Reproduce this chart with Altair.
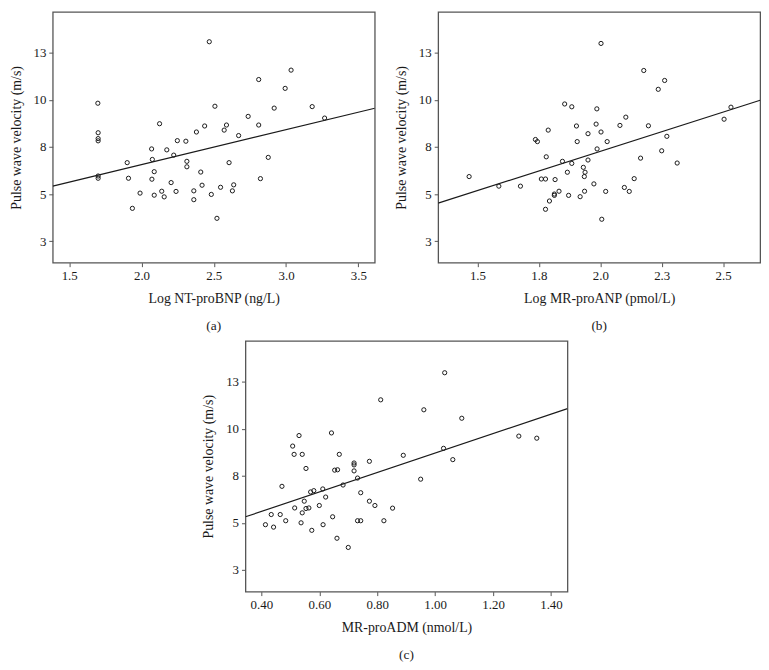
import altair as alt
import pandas as pd

# ---------------- data ----------------
# Panel (a): Log NT-proBNP vs PWV
a_x = [1.698, 1.70, 1.70, 1.70, 1.70, 1.70, 1.901, 1.91, 1.937, 1.99, 2.07, 2.075, 2.072,
       2.088, 2.088, 2.125, 2.175, 2.14, 2.157, 2.205, 2.223, 2.239, 2.248, 2.307, 2.314,
       2.314, 2.38, 2.362, 2.362, 2.437, 2.41, 2.419, 2.469, 2.483, 2.508, 2.522, 2.547,
       2.588, 2.572, 2.606, 2.629, 2.638, 2.672, 2.738, 2.811, 2.811, 2.823, 2.877, 2.918,
       2.994, 3.035, 3.181, 3.267]
a_y = [9.83, 8.26, 7.95, 7.83, 5.96, 5.84, 6.67, 5.84, 4.24, 5.05, 7.40, 6.84, 5.79,
       6.19, 4.94, 8.74, 7.35, 5.15, 4.85, 5.61, 7.07, 5.14, 7.84, 7.81, 6.74,
       6.45, 8.30, 5.17, 4.70, 8.62, 6.17, 5.47, 13.10, 4.98, 9.67, 3.71, 5.36,
       8.67, 8.40, 6.67, 5.17, 5.49, 8.11, 9.13, 11.09, 8.67, 5.82, 6.95, 9.57,
       10.62, 11.59, 9.65, 9.04]

# Panel (b): Log MR-proANP vs PWV
b_x = [1.466, 1.587, 1.675, 1.736, 1.744, 1.788, 1.780, 1.760, 1.777, 1.777, 1.816, 1.813,
       1.813, 1.793, 1.832, 1.846, 1.855, 1.866, 1.871, 1.884, 1.884, 1.903, 1.906, 1.918,
       1.931, 1.936, 1.935, 1.938, 1.950, 1.950, 1.974, 1.983, 1.986, 1.987, 2.003, 2.003,
       2.006, 2.022, 2.028, 2.080, 2.104, 2.098, 2.118, 2.138, 2.164, 2.177, 2.196, 2.236,
       2.250, 2.262, 2.271, 2.313, 2.504, 2.532]
b_y = [5.93, 5.42, 5.42, 7.90, 7.79, 8.40, 6.98, 5.80, 5.80, 4.19, 5.77, 5.00,
       4.93, 4.63, 5.15, 6.74, 9.79, 6.16, 4.93, 9.64, 6.63, 8.62, 7.79, 4.86,
       6.42, 5.15, 5.93, 6.16, 6.81, 8.21, 5.54, 8.72, 9.53, 7.40, 13.01, 8.30,
       3.66, 5.14, 7.79, 8.65, 9.09, 5.35, 5.14, 5.82, 6.91, 11.57, 8.63, 10.57,
       7.30, 11.04, 8.07, 6.65, 8.98, 9.62]

# Panel (c): MR-proADM vs PWV
c_x = [0.414, 0.434, 0.442, 0.465, 0.471, 0.484, 0.508, 0.513, 0.515, 0.530, 0.537, 0.541,
       0.541, 0.548, 0.554, 0.554, 0.564, 0.570, 0.574, 0.581, 0.600, 0.612, 0.613, 0.622,
       0.642, 0.646, 0.653, 0.663, 0.661, 0.669, 0.682, 0.700, 0.720, 0.720, 0.720, 0.732,
       0.732, 0.743, 0.743, 0.773, 0.773, 0.792, 0.812, 0.823, 0.853, 0.890, 0.950, 0.961,
       1.029, 1.033, 1.061, 1.092, 1.289, 1.351]
c_y = [4.91, 5.45, 4.78, 5.45, 6.95, 5.12, 9.09, 8.65, 5.80, 9.65, 5.01, 8.65,
       5.54, 6.16, 7.90, 5.77, 5.80, 6.65, 4.61, 6.72, 5.93, 6.81, 4.91, 6.38,
       9.79, 5.33, 7.81, 7.83, 4.19, 8.65, 7.02, 3.70, 8.19, 8.09, 7.77, 7.39,
       5.12, 6.61, 5.12, 8.28, 6.16, 5.93, 11.55, 5.12, 5.79, 8.60, 7.33, 11.02,
       8.97, 12.99, 8.37, 10.57, 9.62, 9.51]

# fitted lines (ends)
a_fit_x = [1.386, 3.614]
a_fit_y = [5.42, 9.565]
b_fit_x = [1.340, 2.651]
b_fit_y = [4.52, 9.99]
c_fit_x = [0.345, 1.457]
c_fit_y = [5.33, 11.08]

# axes
y_domain = [1.35, 14.68]
y_tick_values = [2.5, 5.0, 7.5, 10.0, 12.5]
y_tick_labels = ["3", "5", "8", "10", "13"]

a_x_ticks = [1.5, 2.0, 2.5, 3.0, 3.5]
a_x_labels = ["1.5", "2.0", "2.5", "3.0", "3.5"]
b_x_ticks = [1.5, 1.75, 2.0, 2.25, 2.5]
b_x_labels = ["1.5", "1.8", "2.0", "2.3", "2.5"]
c_x_ticks = [0.4, 0.6, 0.8, 1.0, 1.2, 1.4]
c_x_labels = ["0.40", "0.60", "0.80", "1.00", "1.20", "1.40"]

y_title = "Pulse wave velocity (m/s)"
FONT = "'Liberation Serif', 'Times New Roman', Times, serif"
FRAME = "#555555"
INK = "#1a1a1a"


def label_expr(values, labels):
    expr = "''"
    for v, l in reversed(list(zip(values, labels))):
        expr = f"abs(datum.value - {v}) < 1e-6 ? '{l}' : ({expr})"
    return expr


def panel(xs, ys, fx, fy, xdomain, xticks, xlabels, xtitle, caption):
    pts = pd.DataFrame({"x": xs, "y": ys})
    fit = pd.DataFrame({"x": fx, "y": fy})
    xenc = alt.X("x:Q",
                 scale=alt.Scale(domain=xdomain, nice=False, zero=False),
                 axis=alt.Axis(values=xticks, labelExpr=label_expr(xticks, xlabels),
                               title=xtitle))
    yenc = alt.Y("y:Q",
                 scale=alt.Scale(domain=y_domain, nice=False, zero=False),
                 axis=alt.Axis(values=y_tick_values,
                               labelExpr=label_expr(y_tick_values, y_tick_labels),
                               title=y_title))
    points = alt.Chart(pts).mark_point(shape="circle", filled=False, color=INK,
                                       size=18, strokeWidth=1, opacity=1).encode(x=xenc, y=yenc)
    line = alt.Chart(fit).mark_line(color=INK, strokeWidth=1.2, clip=True).encode(
        x=alt.X("x:Q"), y=alt.Y("y:Q"))
    return alt.layer(points, line).properties(
        width=325, height=253,
        title=alt.TitleParams(caption, orient="bottom", font=FONT, fontSize=13.5,
                              fontWeight="normal", color=INK, offset=14))


pa = panel(a_x, a_y, a_fit_x, a_fit_y, [1.386, 3.614], a_x_ticks, a_x_labels,
           "Log NT-proBNP (ng/L)", "(a)")
pb = panel(b_x, b_y, b_fit_x, b_fit_y, [1.340, 2.651], b_x_ticks, b_x_labels,
           "Log MR-proANP (pmol/L)", "(b)")
pc = panel(c_x, c_y, c_fit_x, c_fit_y, [0.345, 1.457], c_x_ticks, c_x_labels,
           "MR-proADM (nmol/L)", "(c)")

top = alt.hconcat(pa, pb, spacing=18)
chart = alt.vconcat(top, pc, spacing=6, center=True).properties(
    padding=0
).configure_view(
    stroke=FRAME, strokeWidth=1.3
).configure_axis(
    grid=False, domain=False, ticks=True, tickColor=FRAME, tickSize=4, tickWidth=1,
    labelFont=FONT, labelFontSize=13, labelColor=INK, labelPadding=3,
    titleFont=FONT, titleFontSize=14, titleFontWeight="normal", titleColor=INK,
    titlePadding=9
).configure_axisY(titlePadding=10)

chart.save("out.html", embed_options={"renderer": "svg", "actions": False})
